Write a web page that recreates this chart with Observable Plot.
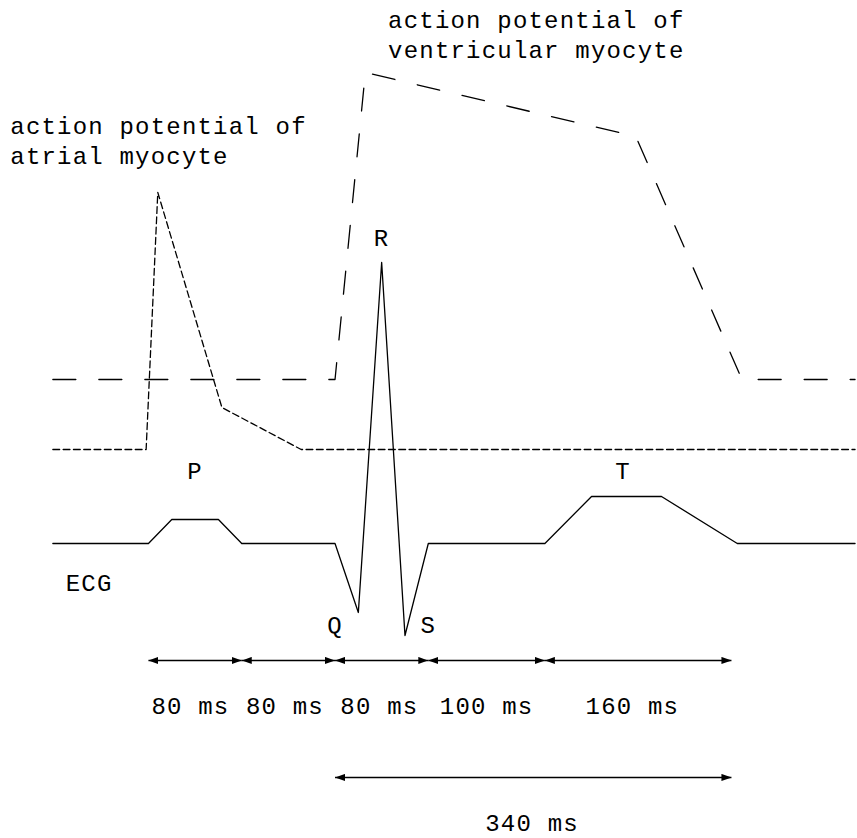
<!DOCTYPE html>
<html><head><meta charset="utf-8">
<script src="https://cdn.jsdelivr.net/npm/d3@7"></script>
<script src="https://cdn.jsdelivr.net/npm/@observablehq/plot@0.6"></script>
<style>body{margin:0;background:#fff}</style>
</head><body><div id="chart"></div>
<script>
// time in ms, amplitude in arbitrary units (ECG baseline = 0)
const ecgTime = [-82, 0, 20, 60, 80, 160, 180, 200, 220, 240, 340, 380, 440, 505, 606];
const ecgValue = [0, 0, 24, 24, 0, 0, -69, 281, -92, 0, 0, 47, 47, 0, 0];
const atrialTime = [-82, -2, 8, 63, 131, 606];
const atrialValue = [94, 94, 351, 136, 94, 94];
const ventTime = [-82, 160, 186, 418, 509, 606];
const ventValue = [164, 164, 471, 407, 164, 164];

const intervalStart = [0, 80, 160, 240, 340];
const intervalEnd = [80, 160, 240, 340, 500];
const intervalLabel = ["80 ms", "80 ms", "80 ms", "100 ms", "160 ms"];
const intervalLabelX = [36, 117, 198, 290, 415];
const intervalRowY = -117;
const intervalLabelY = -170;

const totalStart = [160];
const totalEnd = [500];
const totalLabel = ["340 ms"];
const totalLabelX = [329];
const totalRowY = -234;
const totalLabelY = -287;

const annText = ["action potential of\natrial myocyte", "action potential of\nventricular myocyte", "ECG"];
const annX = [-118.5, 205.5, -71];
const annY = [380, 486, -47];

const waveText = ["P", "R", "T", "Q", "S"];
const waveX = [40, 200, 407, 160, 240];
const waveY = [65, 298, 65, -89, -89];

const ecg = ecgTime.map((t, i) => ({t, v: ecgValue[i]}));
const atrial = atrialTime.map((t, i) => ({t, v: atrialValue[i]}));
const vent = ventTime.map((t, i) => ({t, v: ventValue[i]}));
const intervals = intervalStart.map((s, i) => ({s, e: intervalEnd[i], label: intervalLabel[i], lx: intervalLabelX[i], y: intervalRowY, ly: intervalLabelY}));
const totals = totalStart.map((s, i) => ({s, e: totalEnd[i], label: totalLabel[i], lx: totalLabelX[i], y: totalRowY, ly: totalLabelY}));
const anns = annText.map((text, i) => ({text, x: annX[i], y: annY[i]}));
const waves = waveText.map((text, i) => ({text, x: waveX[i], y: waveY[i]}));

const font = "'Liberation Mono', 'Courier New', monospace";
const fs = 24;

const svg = Plot.plot({
  width: 857, height: 838,
  marginTop: 0, marginRight: 0, marginBottom: 0, marginLeft: 0,
  x: {domain: [-126.9, 608.1], axis: null},
  y: {domain: [-295, 543], axis: null},
  style: {fontFamily: font, letterSpacing: "1.2px", background: "#fff", color: "#000"},
  marks: [
    Plot.line(vent, {x: "t", y: "v", stroke: "#000", strokeWidth: 1.3, strokeDasharray: "23,23", curve: "linear"}),
    Plot.line(atrial, {x: "t", y: "v", stroke: "#000", strokeWidth: 1.3, strokeDasharray: "6.8,3.5", curve: "linear"}),
    Plot.line(ecg, {x: "t", y: "v", stroke: "#000", strokeWidth: 1.3, curve: "linear"}),
    Plot.link(intervals, {x1: "s", x2: "e", y1: "y", y2: "y", stroke: "#000", strokeWidth: 1.5, markerStart: "arrow", markerEnd: "arrow"}),
    Plot.link(totals, {x1: "s", x2: "e", y1: "y", y2: "y", stroke: "#000", strokeWidth: 1.5, markerStart: "arrow", markerEnd: "arrow"}),
    Plot.text(intervals, {x: "lx", y: "ly", text: "label", fontSize: fs, textAnchor: "middle", lineAnchor: "bottom", fill: "#000"}),
    Plot.text(totals, {x: "lx", y: "ly", text: "label", fontSize: fs, textAnchor: "middle", lineAnchor: "bottom", fill: "#000"}),
    Plot.text(anns, {x: "x", y: "y", text: "text", fontSize: fs, textAnchor: "start", lineAnchor: "bottom", lineHeight: 1.25, fill: "#000"}),
    Plot.text(waves, {x: "x", y: "y", text: "text", fontSize: fs, textAnchor: "middle", lineAnchor: "bottom", fill: "#000"})
  ]
});

// filled triangular arrowheads
svg.querySelectorAll("marker").forEach(m => {
  m.setAttribute("viewBox", "-10 -4 10 8");
  m.setAttribute("markerWidth", "10");
  m.setAttribute("markerHeight", "8");
  m.setAttribute("markerUnits", "userSpaceOnUse");
  m.setAttribute("refX", "0");
  m.setAttribute("refY", "0");
  m.setAttribute("orient", "auto-start-reverse");
  m.setAttribute("fill", "#000");
  m.setAttribute("stroke", "none");
  const p = m.querySelector("path");
  if (p) p.setAttribute("d", "M-10,-3.6L0,0L-10,3.6Z");
});

document.getElementById("chart").appendChild(svg);
</script>
</body></html>
